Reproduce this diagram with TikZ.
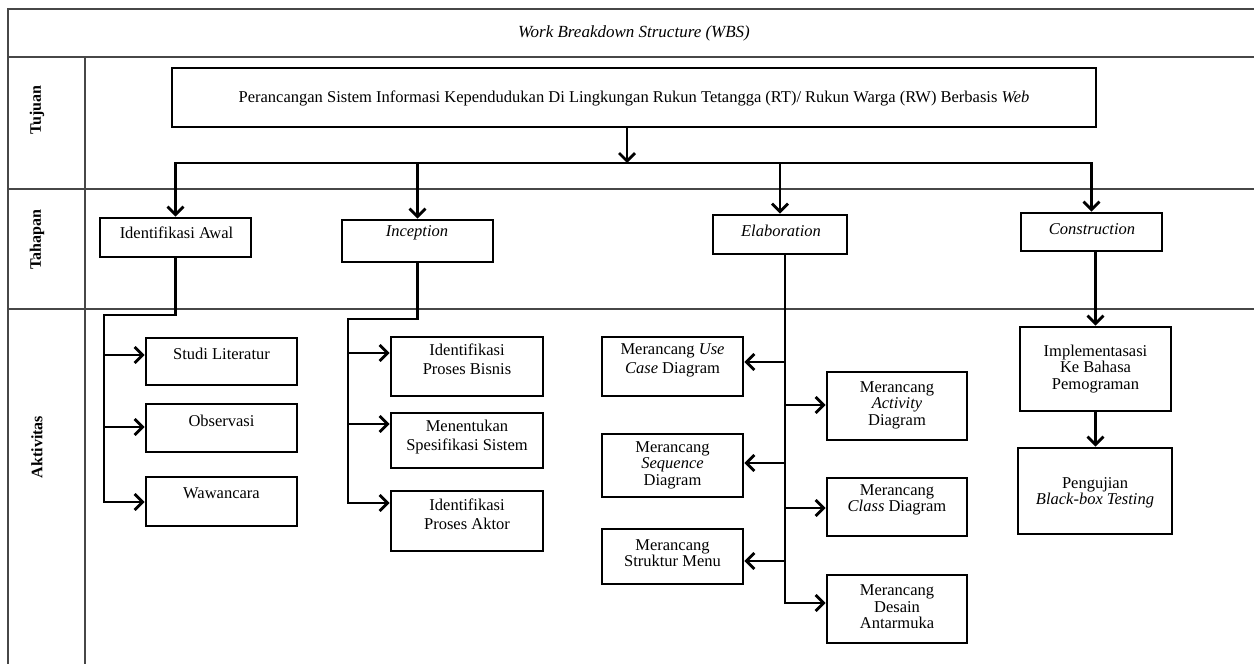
\documentclass[tikz,border=0pt]{standalone}
\usepackage{fontspec}
\setmainfont{Liberation Serif}
\usetikzlibrary{arrows.meta,calc}
\begin{document}
\begin{tikzpicture}[x=1pt,y=-1pt,
  frame/.style={draw=black!72, line width=1.4pt},
  bx/.style 2 args={draw, line width=2.8pt, inner sep=0pt, minimum width=#1, minimum height=#2},
  txt/.style={font=\fontsize{16.5}{16.5}\selectfont, align=center, inner sep=0pt},
  txtw/.style={font=\fontsize{16.5}{19}\selectfont, align=center, inner sep=0pt},
  rowlab/.style={font=\fontsize{16}{16}\selectfont\bfseries, rotate=90, inner sep=0pt},
  conn/.style={line width=2.8pt},
  arr/.style={conn, -{Straight Barb[length=8pt,width=16pt]}}]
\useasboundingbox (0,0) rectangle (1254,664);
% frame
\draw[frame] (8,664) -- (8,9) -- (1254,9);
\draw[frame] (8,57) -- (1254,57);
\draw[frame] (8,189) -- (1254,189);
\draw[frame] (8,309) -- (1254,309);
\draw[frame] (85,57) -- (85,664);
\node[txt, font=\fontsize{17}{17}\selectfont\itshape] (title) at (634,33) {Work Breakdown Structure (WBS)};
\node[rowlab] (rTujuan) at (37,110) {Tujuan};
\node[rowlab] (rTahapan) at (37,240) {Tahapan};
\node[rowlab] (rAktivitas) at (37,447) {Aktivitas};
% boxes
\node[bx={924pt}{59pt}] (goal) at (634,97.5) {};
\node[bx={151pt}{39pt}] (ia) at (175.5,237.5) {};
\node[bx={151pt}{42pt}] (inc) at (417.5,241) {};
\node[bx={134pt}{39pt}] (elab) at (780,234.5) {};
\node[bx={141pt}{38pt}] (cons) at (1091.5,232) {};
\node[bx={151pt}{47pt}] (sl) at (221.5,361.5) {};
\node[bx={151pt}{48pt}] (obs) at (221.5,428) {};
\node[bx={151pt}{49pt}] (waw) at (221.5,501.5) {};
\node[bx={152pt}{59pt}] (ipb) at (467,366.5) {};
\node[bx={152pt}{55pt}] (mss) at (467,440.5) {};
\node[bx={152pt}{60pt}] (ipa) at (467,521) {};
\node[bx={141pt}{59pt}] (uc) at (672.5,366.5) {};
\node[bx={141pt}{63pt}] (seq) at (672.5,465.5) {};
\node[bx={141pt}{55pt}] (sm) at (672.5,556.5) {};
\node[bx={140pt}{68pt}] (act) at (897,406) {};
\node[bx={140pt}{58pt}] (cls) at (897,507) {};
\node[bx={140pt}{68pt}] (des) at (897,609) {};
\node[bx={151pt}{84pt}] (impl) at (1095.5,369) {};
\node[bx={154pt}{86pt}] (peng) at (1095,491) {};
% texts
\node[txt] (tgoal) at (634,98) {Perancangan Sistem Informasi Kependudukan Di Lingkungan Rukun Tetangga (RT)/ Rukun Warga (RW) Berbasis \textit{Web}};
\node[txt] (tia) at (176.5,233) {Identifikasi Awal};
\node[txt] (tinc) at (417,233) {\textit{Inception}};
\node[txt] (telab) at (781,231) {\textit{Elaboration}};
\node[txt] (tcons) at (1092,229) {\textit{Construction}};
\node[txt] (tsl) at (221.5,354) {Studi Literatur};
\node[txt] (tobs) at (221.5,420.5) {Observasi};
\node[txt] (twaw) at (221.5,493) {Wawancara};
\node[txtw] (tipb) at (467,359.5) {Identifikasi\\Proses Bisnis};
\node[txtw] (tmss) at (467,437) {Menentukan\\Spesifikasi Sistem};
\node[txtw] (tipa) at (467,514) {Identifikasi\\Proses Aktor};
\node[txtw] (tuc) at (672.5,360) {Merancang \textit{Use}\\\textit{Case} Diagram};
\node[txt] (tseq) at (672.5,465) {Merancang\\\textit{Sequence}\\Diagram};
\node[txt] (tsm) at (672.5,553) {Merancang\\Struktur Menu};
\node[txt] (tact) at (897,405) {Merancang\\\textit{Activity}\\Diagram};
\node[txt] (tcls) at (897,500) {Merancang\\\textit{Class} Diagram};
\node[txt] (tdes) at (897,607) {Merancang\\Desain\\Antarmuka};
\node[txt] (timpl) at (1095.5,369) {Implementasasi\\Ke Bahasa\\Pemograman};
\node[txt] (tpeng) at (1095,493) {Pengujian\\\textit{Black-box Testing}};
% connector coordinates
\coordinate (bus) at (627,163);
\coordinate (iaK) at (104,315);
\coordinate (incK) at (348,319);
\coordinate (elK) at ($(elab.south)+(5,0)$);
\coordinate (slA) at ($(sl.west)+(0,-6.5)$);
\coordinate (obsA) at ($(obs.west)+(0,-1)$);
\coordinate (wawA) at ($(waw.west)+(0,0.5)$);
\coordinate (ipbA) at ($(ipb.west)+(0,-13.5)$);
\coordinate (mssA) at ($(mss.west)+(0,-16.5)$);
\coordinate (ipaA) at ($(ipa.west)+(0,-18)$);
\coordinate (ucA) at ($(uc.east)+(0,-4.5)$);
\coordinate (seqA) at ($(seq.east)+(0,-2.5)$);
\coordinate (smA) at ($(sm.east)+(0,4.5)$);
\coordinate (actA) at ($(act.west)+(0,-1)$);
\coordinate (clsA) at ($(cls.west)+(0,1)$);
\coordinate (desA) at ($(des.west)+(0,-6)$);
% goal to stages
\draw[arr] (goal.south -| bus) -- (bus);
\draw[arr] (ia.north |- bus) -| (cons.north);
\draw[arr] (cons.north |- bus) -| (ia.north);
\draw[arr] (inc.north |- bus) -- (inc.north);
\draw[arr] (elab.north |- bus) -- (elab.north);
% identifikasi awal
\draw[arr] (ia.south) |- (iaK) |- (wawA);
\draw[arr] (iaK |- slA) -- (slA);
\draw[arr] (iaK |- obsA) -- (obsA);
% inception
\draw[arr] (inc.south) |- (incK) |- (ipaA);
\draw[arr] (incK |- ipbA) -- (ipbA);
\draw[arr] (incK |- mssA) -- (mssA);
% elaboration
\draw[arr] (elK) |- (desA);
\draw[arr] (elK |- ucA) -- (ucA);
\draw[arr] (elK |- seqA) -- (seqA);
\draw[arr] (elK |- smA) -- (smA);
\draw[arr] (elK |- actA) -- (actA);
\draw[arr] (elK |- clsA) -- (clsA);
% construction
\draw[arr] (cons.south -| impl.north) -- (impl.north);
\draw[arr] (impl.south) -- (impl.south |- peng.north);
\end{tikzpicture}
\end{document}
